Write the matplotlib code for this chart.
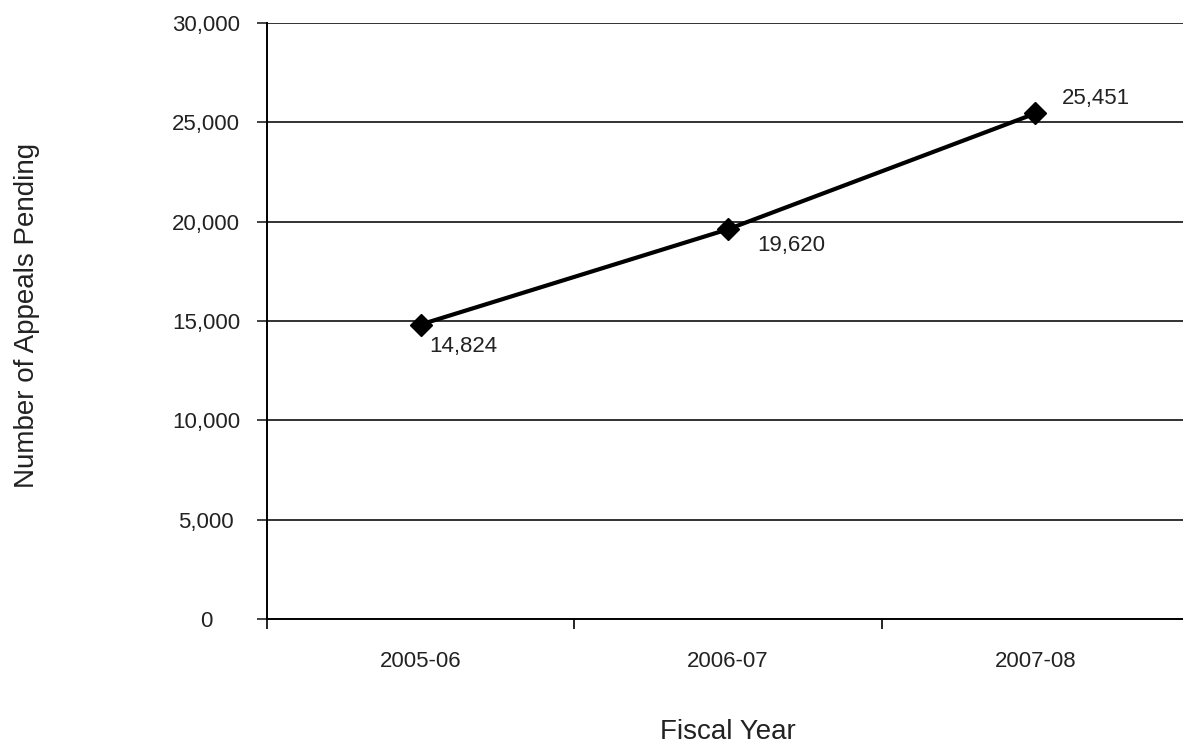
import matplotlib
matplotlib.use("Agg")
import matplotlib.pyplot as plt

plt.rcParams['font.family'] = ['Liberation Sans', 'DejaVu Sans']

years = ["2005-06", "2006-07", "2007-08"]
pending = [14824, 19620, 25451]
y_ticks = [0, 5000, 10000, 15000, 20000, 25000, 30000]

fig = plt.figure(figsize=(11.83, 7.45), dpi=100)
ax = fig.add_axes([0.2257, 0.1691, 0.7743, 0.8])

x = list(range(len(years)))
for yt in y_ticks[1:]:
    ax.axhline(yt, color='#222222', lw=1.3, zorder=1)

ax.plot(x, pending, color='black', lw=3, marker='D', markersize=11, zorder=3)

# label offsets in points
offsets = [(6, -16), (21, -12), (19, 11)]
for xi, v, off in zip(x, pending, offsets):
    ax.annotate(f"{v:,}", (xi, v), xytext=off, textcoords='offset points',
                ha='left', va='center', fontsize=16, color='#222222')

ax.set_xlim(-0.5, 2.48)
ax.set_ylim(0, 30000)
ax.set_yticks(y_ticks)
ax.set_yticklabels([f"{t:,}" for t in y_ticks], ha='center')
ax.set_xticks(x)
ax.set_xticklabels(years)
ax.set_xticks([-0.5, 0.5, 1.5], minor=True)
ax.tick_params(axis='x', which='major', length=0, pad=23, labelsize=16, colors='#222222')
ax.tick_params(axis='x', which='minor', length=7, width=1.2, direction='out')
ax.tick_params(axis='y', length=7, width=1.2, pad=37, labelsize=16, colors='#222222')

for s in ['top', 'right']:
    ax.spines[s].set_visible(False)
ax.spines['left'].set_linewidth(1.4)
ax.spines['bottom'].set_linewidth(1.4)

fig.text(0.023, 0.577, "Number of Appeals Pending", rotation=90, ha='center', va='center',
         fontsize=20, color='#222222')
fig.text(0.615, 0.0175, "Fiscal Year", ha='center', va='center', fontsize=20, color='#222222')

fig.savefig("out.png", dpi=100)
